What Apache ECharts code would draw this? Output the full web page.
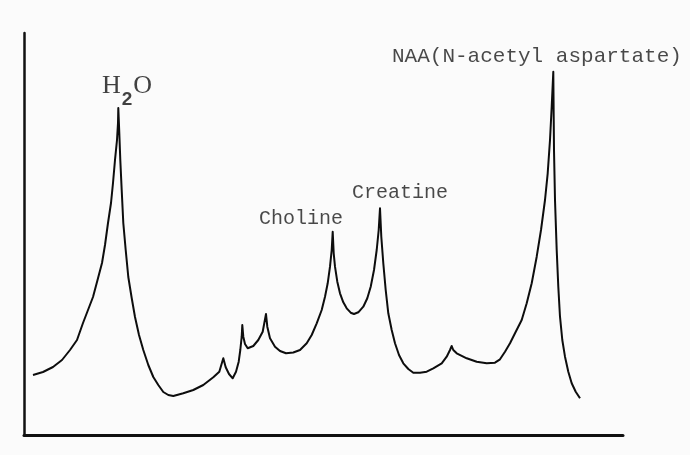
<!DOCTYPE html>
<html>
<head>
<meta charset="utf-8">
<style>
  html, body { margin: 0; padding: 0; background: #fbfbfb; }
  #chart { width: 690px; height: 455px; }
</style>
<script src="https://cdn.jsdelivr.net/npm/echarts@6/dist/echarts.min.js"></script>
</head>
<body>
<div id="chart"></div>
<script>
// Spectrum trace (arbitrary units: frequency position, signal intensity)
const specX = [9, 19, 29, 38, 46, 53, 59, 64, 69, 73, 78, 81, 84, 87, 89, 91, 93, 94, 94.3,
  95.3, 96.3, 97.7, 99.3, 101.7, 104.3, 107.7, 111, 115, 119.3, 124.3, 129.3, 134.3, 139.3, 144.3, 149.3,
  159.3, 169.3, 179.3, 189.3, 195.3, 199.3, 201.7, 205, 208.7, 212, 214.7, 216.3, 217.7, 218.3, 219.3, 221, 223.7,
  229.3, 234.3, 238.7, 242, 243.3, 246, 251, 256, 262, 269.3, 276, 282.7, 287.7, 292.7, 297.7, 301, 303.7,
  306, 307.7, 308.7, 309.7, 311, 313.3, 316, 319.3, 322.7, 326.7, 330, 334.3, 339.3, 343.3, 346.7, 350,
  352.7, 354.7, 356, 357.3, 359.3, 361.7, 364.3, 367.7, 371, 375, 379.3, 384.3, 389.3, 396, 402.7, 409.3,
  417.7, 422.7, 426, 427.7, 429.3, 432.7, 442.7, 452.7, 462.7, 471, 476, 481, 486, 491, 497.7, 502.7,
  507.7, 512.7, 517, 521, 523.7, 526, 527.7, 529.3, 529.7, 530, 531, 532.7, 534.3, 536, 538.3, 541,
  544.3, 547.7, 551.7, 556];
const specY = [60, 63, 68, 75, 85, 95, 112, 125, 138, 153, 172, 190, 212, 232, 252, 275, 295, 312, 327,
  302, 275, 245, 212, 185, 158, 137, 118, 100, 85, 70, 58, 50, 43, 40, 39,
  41.7, 45, 50, 57.7, 63.3, 76.7, 67.7, 61, 56.7, 63.3, 73.3, 85, 98.3, 110, 98.3, 91, 86.7,
  89, 95, 103.3, 121, 108.3, 96.7, 88.3, 84, 81.7, 82.5, 85, 91.7, 100, 111.7, 125, 138.3, 151.7,
  168.3, 185, 203.3, 181.7, 168.3, 153.3, 141.7, 132.7, 126.7, 122.3, 121, 122.7, 128.3, 136.7, 148.3, 165,
  185, 205, 226.7, 198.3, 171.7, 145, 121.7, 105, 91.7, 80, 71.7, 66, 62.3, 62.3, 63.3, 66.7,
  71.7, 78.3, 85, 89, 85, 81.7, 76.7, 73.3, 71.7, 72.3, 75.7, 83.3, 91.7, 101.7, 115, 131.7,
  151.7, 178.3, 205, 235, 261.7, 295, 328.3, 363.3, 318.3, 285, 235, 185, 148.3, 118.3, 95, 78.3,
  63.3, 51.7, 43.3, 36.7];

// Peak annotations: text and anchor (top-left for H2O, bottom-left for others) in data units
const labelNames = ['H2O', 'Choline', 'Creatine', 'NAA(N-acetyl aspartate)'];
const labelX = [78, 235, 328, 368];
const labelY = [362, 206, 232, 368];

const X_MAX = 599, Y_MAX = 402;

const chart = echarts.init(document.getElementById('chart'), null, { renderer: 'canvas' });

const lineData = specX.map((x, i) => [x, specY[i]]);
const monoLabel = {
  show: true, position: 'inside', align: 'left', verticalAlign: 'bottom',
  fontFamily: 'Liberation Mono', fontSize: 20, color: '#1c1c1c'
};
const labelData = labelNames.map((name, i) => {
  if (name === 'H2O') {
    return {
      value: [labelX[i], labelY[i]],
      label: {
        show: true, position: 'inside', align: 'left', verticalAlign: 'top',
        formatter: '{h|H}{s|2}{h|O}',
        rich: {
          h: { fontFamily: 'Liberation Serif', fontSize: 26, color: '#111', verticalAlign: 'top', lineHeight: 36 },
          s: { fontFamily: 'Liberation Sans', fontWeight: 'bold', fontSize: 19, color: '#111', verticalAlign: 'bottom', padding: [0, 1, 0, 1] }
        }
      }
    };
  }
  return {
    value: [labelX[i], labelY[i]],
    label: Object.assign({}, monoLabel, { formatter: name, fontSize: name.length > 10 ? 21 : 20 })
  };
});

chart.setOption({
  backgroundColor: '#fbfbfb',
  animation: false,
  grid: { left: 24, top: 33, width: X_MAX, height: Y_MAX, containLabel: false },
  xAxis: {
    type: 'value', min: 0, max: X_MAX,
    axisLine: { show: true, onZero: false, lineStyle: { color: '#111', width: 3 } },
    axisTick: { show: false }, axisLabel: { show: false }, splitLine: { show: false }
  },
  yAxis: {
    type: 'value', min: 0, max: Y_MAX,
    axisLine: { show: true, onZero: false, lineStyle: { color: '#111', width: 2.5 } },
    axisTick: { show: false }, axisLabel: { show: false }, splitLine: { show: false }
  },
  series: [
    {
      type: 'line', data: lineData, showSymbol: false, smooth: false,
      lineStyle: { color: '#0d0d0d', width: 2, join: 'round' }, silent: true
    },
    {
      type: 'scatter', data: labelData, symbolSize: 1,
      itemStyle: { color: 'rgba(0,0,0,0)' }, silent: true
    }
  ]
});
</script>
</body>
</html>
